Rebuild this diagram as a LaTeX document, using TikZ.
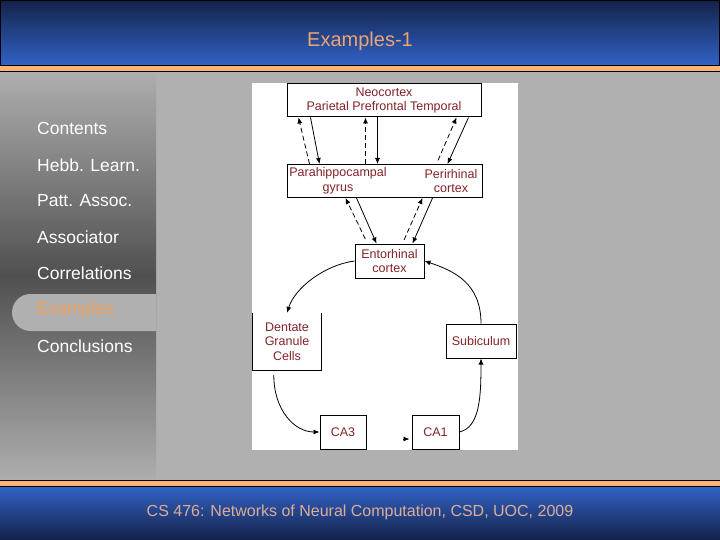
\documentclass[tikz,border=0pt]{standalone}
\usepackage{fontspec}
\setmainfont{Liberation Sans}
\usepackage{tikz}
\usetikzlibrary{arrows.meta,shapes.misc}
\usepackage{xcolor}
\definecolor{SlideNavy}{RGB}{19,34,72}
\definecolor{SlideBlue}{RGB}{50,99,200}
\definecolor{StripOrange}{RGB}{255,178,115}
\definecolor{TitlePeach}{RGB}{235,165,115}
\definecolor{FootPeach}{RGB}{222,172,150}
\definecolor{PanelLight}{RGB}{174,174,174}
\definecolor{PanelDark}{RGB}{80,80,80}
\definecolor{SlideGray}{RGB}{176,176,176}
\definecolor{BrainRed}{RGB}{130,35,40}
\definecolor{TabOrange}{RGB}{240,160,90}
\newcommand{\diagfont}{\fontsize{12.5}{14.5}\selectfont}
\newcommand{\navfont}{\fontsize{17.5}{20}\selectfont}
\newcommand{\headfont}{\fontsize{20}{24}\selectfont}
\newcommand{\footfont}{\fontsize{16}{19}\selectfont}

\begin{document}
\begin{tikzpicture}[x=1pt,y=-1pt,
    box/.style={draw,line width=1pt,inner sep=0pt,align=center,text=BrainRed,font=\diagfont},
    txt/.style={inner sep=0pt,align=center,text=BrainRed,font=\diagfont},
    nav/.style={anchor=west,inner sep=0pt,text=white,font=\navfont},
    arr/.style={-{Latex[length=6pt,width=5pt]},line width=0.8pt},
    dsh/.style={arr,dash pattern=on 5pt off 3pt}]
    \useasboundingbox (0,0) rectangle (720,540);
    \fill[SlideGray] (0,0) rectangle (720,540);
    \shade[top color=PanelLight,bottom color=PanelLight,middle color=PanelDark] (0,72) rectangle (156,480);
    \shade[top color=SlideNavy,bottom color=SlideBlue] (0,0) rectangle (720,66);
    \fill[StripOrange] (0,66) rectangle (720,72);
    \draw[line width=1pt] (0.5,66) -- (0.5,0.5) -- (719.5,0.5) -- (719.5,66);
    \draw[line width=1pt] (0,66) -- (720,66) (0,72) -- (720,72);
    \fill[StripOrange] (0,480) rectangle (720,486);
    \shade[top color=SlideBlue,bottom color=SlideNavy] (0,486) rectangle (720,540);
    \draw[line width=1pt] (0,480) -- (720,480) (0,486) -- (720,486);
    \node[text=TitlePeach,font=\headfont] (title) at (360,41) {Examples-1};
    \node[text=FootPeach,font=\footfont] (foot) at (360,512) {CS 476: Networks of Neural Computation, CSD, UOC, 2009};

    \node[rounded rectangle,rounded rectangle right arc=none,fill=SlideGray,minimum width=144pt,minimum height=37pt,inner sep=0pt] (tab) at (84,312.5) {};
    \node[nav] (contents) at (37,128) {Contents};
    \node[nav] (hebb) at (37,165) {Hebb. Learn.};
    \node[nav] (patt) at (37,201) {Patt. Assoc.};
    \node[nav] (assoc) at (37,237) {Associator};
    \node[nav] (corr) at (37,273) {Correlations};
    \node[nav,text=TabOrange] (examples) at (37,310) {Examples};
    \node[nav] (concl) at (37,346) {Conclusions};

    \fill[white] (252,83) rectangle (518,450);
    \node[box,minimum width=194pt,minimum height=33pt] (neo) at (384,100.5) {Neocortex\\Parietal Prefrontal Temporal};
    \node[box,minimum width=195pt,minimum height=33pt] (para) at (384.5,181) {};
    \node[txt] (parahip) at (338,181) {Parahippocampal\\gyrus};
    \node[txt] (perirh) at (451,181) {Perirhinal\\cortex};
    \node[box,minimum width=69pt,minimum height=34pt] (ento) at (389.5,261) {Entorhinal\\cortex};
    \node[txt,minimum width=68pt,minimum height=57pt] (dent) at (287,341.5) {Dentate\\Granule\\Cells};
    \draw[line width=1pt] (dent.north west) -- (dent.south west) -- (dent.south east) -- (dent.north east);
    \node[box,minimum width=70pt,minimum height=34pt] (sub) at (481,341) {Subiculum};
    \node[box,minimum width=46pt,minimum height=34pt] (ca3) at (343,432) {CA3};
    \node[box,minimum width=47pt,minimum height=34pt] (ca1) at (435.5,432) {CA1};
    \coordinate (ca1in) at ([shift={(-9pt,-7pt)}]ca1.west);

    \draw[dsh] ([xshift=23pt]para.north west) -- ([xshift=12pt]neo.south west);
    \draw[arr] ([xshift=24pt]neo.south west) -- ([xshift=33pt]para.north west);
    \draw[dsh] ([xshift=79pt]para.north west) -- ([xshift=79pt]neo.south west);
    \draw[arr] ([xshift=91pt]neo.south west) -- ([xshift=91pt]para.north west);
    \draw[dsh,shorten <=4pt] ([xshift=150pt]para.north west) -- ([xshift=170pt]neo.south west);
    \draw[arr] ([xshift=182pt]neo.south west) -- ([xshift=161pt]para.north west);
    \draw[dsh,shorten <=5pt] ([xshift=13pt]ento.north west) -- ([xshift=59pt]para.south west);
    \draw[arr] ([xshift=70pt]para.south west) -- ([xshift=22pt]ento.north west);
    \draw[dsh,shorten <=4pt] ([xshift=48pt]ento.north west) -- ([xshift=136pt]para.south west);
    \draw[arr] ([xshift=146pt]para.south west) -- ([xshift=58pt]ento.north west);
    \draw[arr] (ento.west) .. controls +(-30,4) and +(8,-25) .. (dent.north);
    \draw[arr] (sub.north) .. controls +(0,-40) and +(30,10) .. (ento.east);
    \draw[arr,shorten <=5pt] ([xshift=21pt]dent.south west) .. controls +(0,40) and +(-25,0) .. (ca3.west);
    \draw[arr,shorten >=2pt] (ca1in) -- (ca1in -| ca1.west);
    \draw[arr] (ca1.east) .. controls +(20,-5) and +(0,40) .. (sub.south);
\end{tikzpicture}
\end{document}
